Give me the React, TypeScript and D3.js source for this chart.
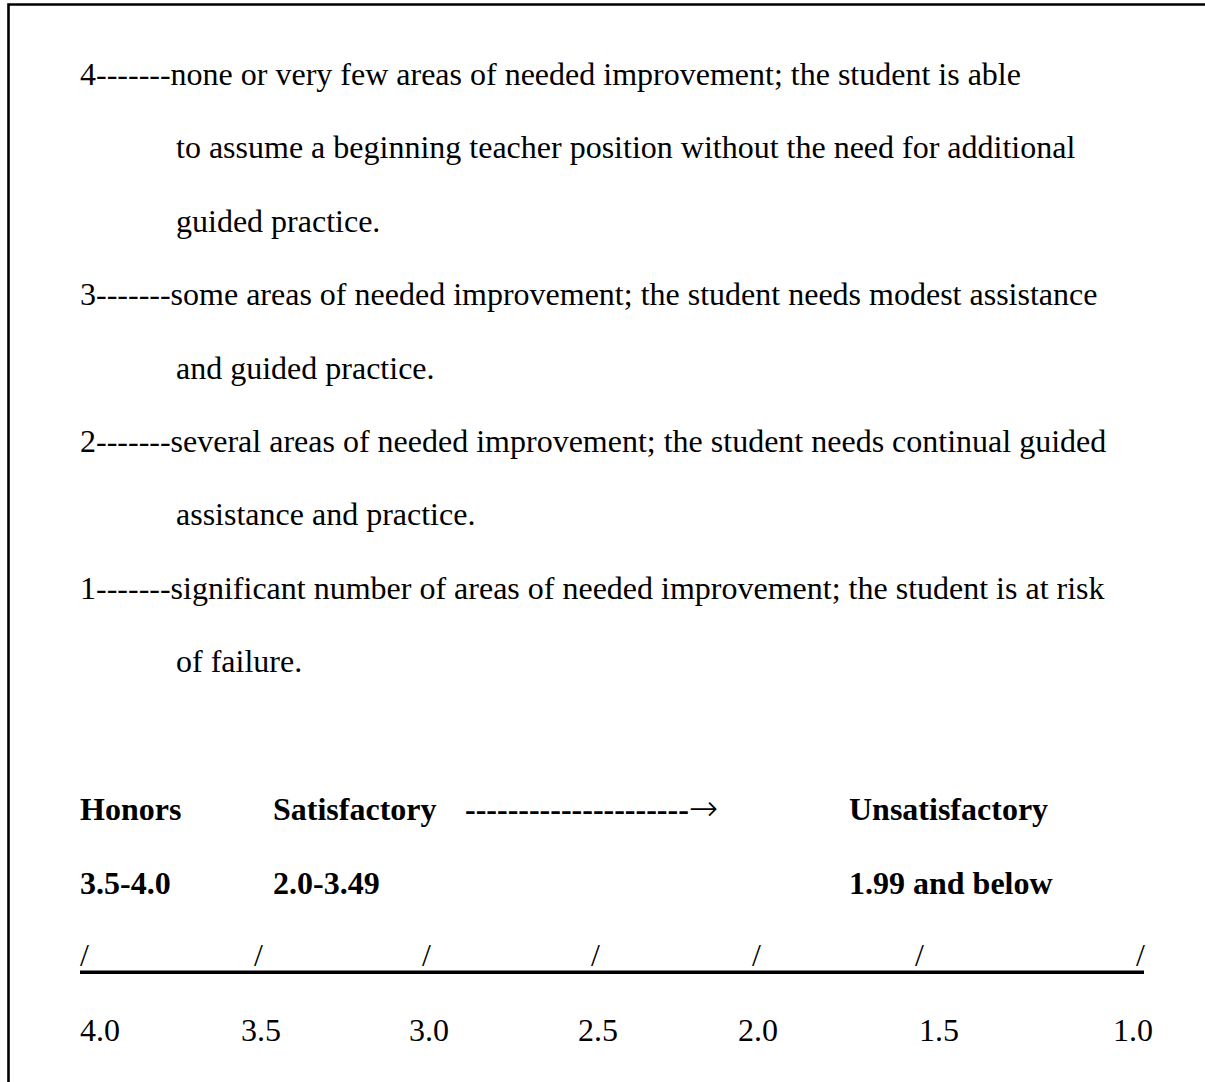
import * as d3 from 'd3';

// Rating descriptions (each score line followed by its continuation lines)
const ratingLines: string[] = [
  '4-------none or very few areas of needed improvement; the student is able',
  'to assume a beginning teacher position without the need for additional',
  'guided practice.',
  '3-------some areas of needed improvement; the student needs modest assistance',
  'and guided practice.',
  '2-------several areas of needed improvement; the student needs continual guided',
  'assistance and practice.',
  '1-------significant number of areas of needed improvement; the student is at risk',
  'of failure.',
];

const categories: string[] = ['Honors', 'Satisfactory', 'Unsatisfactory'];
const ranges: string[] = ['3.5-4.0', '2.0-3.49', '1.99 and below'];
const arrowDashes = '---------------------';
const arrowHead = '\u2192';
const gpaTicks: number[] = [4.0, 3.5, 3.0, 2.5, 2.0, 1.5, 1.0];

const W = 1205;
const H = 1082;
const FONT = '"Liberation Serif", "Times New Roman", serif';
const FS = 32;

export default function App() {
  // vertical layout of the description lines
  const lineY = d3.scalePoint<number>()
    .domain(d3.range(ratingLines.length))
    .range([85, 672]);

  // column positions for the grade bands
  const col = d3.scaleOrdinal<string, number>()
    .domain(categories)
    .range([80, 273, 849]);

  // tick positions along the scale (typed with tab stops in the original)
  const tickKeys = gpaTicks.map(d => d.toFixed(1));
  const labelX = d3.scaleOrdinal<string, number>().domain(tickKeys)
    .range([80, 241, 409, 578, 738, 919, 1113]);
  const slashX = d3.scaleOrdinal<string, number>().domain(tickKeys)
    .range([80, 254, 422, 591, 752, 915, 1136]);

  const isScoreLine = (s: string) => /^\d-/.test(s);

  return (
    <svg width={W} height={H} style={{ position: 'absolute', left: 0, top: 0, background: '#fff' }}
      fontFamily={FONT} fontSize={FS}>
      {/* frame */}
      <path d={`M${W},4.5 H8.5 V${H}`} fill="none" stroke="#000" strokeWidth={2.6} />

      {ratingLines.map((s, i) => (
        <text key={i} x={isScoreLine(s) ? 80 : 176} y={lineY(i)} fill="#000">{s}</text>
      ))}

      <g fontWeight="bold">
        {categories.map(c => (
          <text key={c} x={col(c)} y={820} fill="#000">{c}</text>
        ))}
        <text x={465} y={820} fill="#000">
          {arrowDashes}
          <tspan fontWeight={200} fontFamily='"DejaVu Sans", sans-serif' fontSize={35}>{arrowHead}</tspan>
        </text>
        {ranges.map((r, i) => (
          <text key={r} x={col(categories[i])} y={894} fill="#000">{r}</text>
        ))}
      </g>

      {/* scale line with slash ticks */}
      {tickKeys.map(k => (
        <text key={'s' + k} x={slashX(k)} y={966} fill="#000">/</text>
      ))}
      <line x1={80} x2={1144} y1={972.3} y2={972.3} stroke="#000" strokeWidth={3.4} />
      {tickKeys.map(k => (
        <text key={'l' + k} x={labelX(k)} y={1041} fill="#000">{k}</text>
      ))}
    </svg>
  );
}
